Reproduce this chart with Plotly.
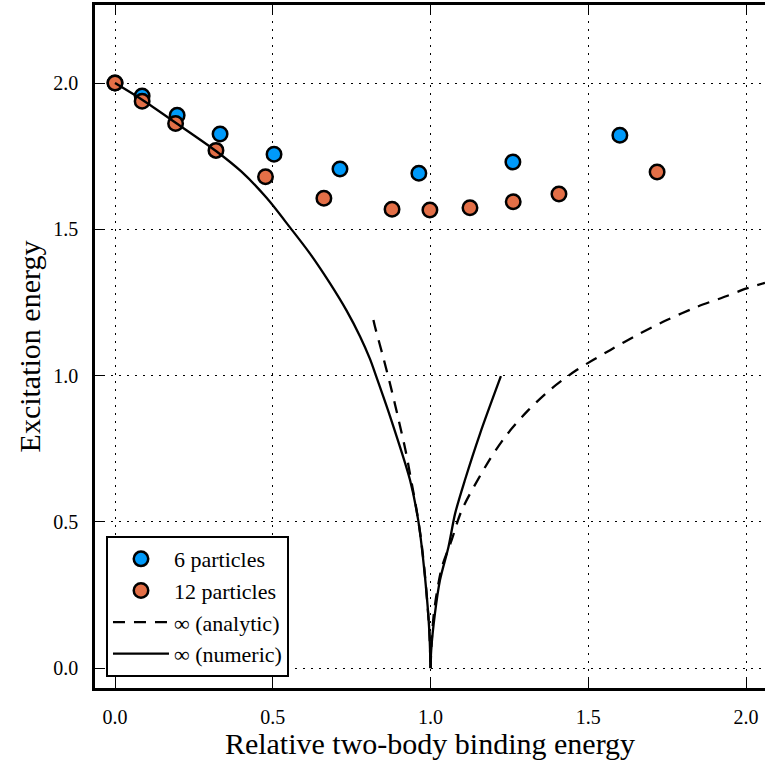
import plotly.graph_objects as go

# 6 particles
x6 = [0.0, 0.086, 0.197, 0.333, 0.504, 0.713, 0.963, 1.261, 1.600]
y6 = [2.0, 1.956, 1.890, 1.826, 1.757, 1.706, 1.692, 1.730, 1.822]

# 12 particles
x12 = [0.0, 0.086, 0.192, 0.320, 0.477, 0.662, 0.878, 0.998, 1.125, 1.262, 1.407, 1.718]
y12 = [2.0, 1.938, 1.862, 1.770, 1.680, 1.606, 1.569, 1.566, 1.574, 1.594, 1.621, 1.696]

# infinite system, analytic (left branch, right branch)
xa_left = [0.819, 0.824, 0.851, 0.876, 0.899, 0.921, 0.940, 0.955, 0.970, 0.983, 0.996, 1.0]
ya_left = [1.190, 1.167, 1.059, 0.953, 0.848, 0.743, 0.634, 0.545, 0.440, 0.310, 0.130, 0.0]
xa_right = [1.0, 1.004, 1.012, 1.035, 1.067, 1.099, 1.183, 1.241, 1.310, 1.384, 1.463, 1.569,
            1.664, 1.749, 1.844, 1.939, 2.002, 2.060]
ya_right = [0.0, 0.100, 0.200, 0.341, 0.438, 0.540, 0.705, 0.797, 0.882, 0.956, 1.019, 1.087,
            1.144, 1.190, 1.235, 1.272, 1.298, 1.317]

# infinite system, numeric (left branch, right branch)
xn_left = [0.0, 0.086, 0.190, 0.320, 0.400, 0.481, 0.555, 0.618, 0.681, 0.734, 0.777,
           0.808, 0.827, 0.872, 0.935, 0.961, 0.983, 0.996, 1.0]
yn_left = [2.0, 1.943, 1.866, 1.768, 1.698, 1.607, 1.506, 1.417, 1.316, 1.222, 1.133,
           1.057, 1.000, 0.860, 0.643, 0.505, 0.305, 0.130, 0.0]
xn_right = [1.0, 1.002, 1.014, 1.030, 1.057, 1.078, 1.109, 1.157, 1.223]
yn_right = [0.0, 0.060, 0.187, 0.301, 0.415, 0.529, 0.643, 0.802, 0.998]

xticks = [0.0, 0.5, 1.0, 1.5, 2.0]
yticks = [0.0, 0.5, 1.0, 1.5, 2.0]
tick_text_x = ["0.0", "0.5", "1.0", "1.5", "2.0"]
tick_text_y = ["0.0", "0.5", "1.0", "1.5", "2.0"]

FONT = "Liberation Serif"
DASH = "12px,9px"

fig = go.Figure()
fig.add_trace(go.Scatter(x=x6, y=y6, mode="markers", name="6 particles",
                         marker=dict(size=14.5, color="#009AFA", line=dict(color="black", width=2.5))))
fig.add_trace(go.Scatter(x=x12, y=y12, mode="markers", name="12 particles",
                         marker=dict(size=14.5, color="#E36F47", line=dict(color="black", width=2.5))))
fig.add_trace(go.Scatter(x=xa_left, y=ya_left, mode="lines", name="∞ (analytic)", legendgroup="an",
                         line=dict(color="black", width=2.3, dash=DASH, shape="spline", smoothing=0.8)))
fig.add_trace(go.Scatter(x=xa_right, y=ya_right, mode="lines", name="∞ (analytic)", legendgroup="an",
                         showlegend=False,
                         line=dict(color="black", width=2.3, dash=DASH, shape="spline", smoothing=0.8)))
fig.add_trace(go.Scatter(x=xn_left, y=yn_left, mode="lines", name="∞ (numeric)", legendgroup="nu",
                         line=dict(color="black", width=2.3, shape="spline", smoothing=0.8)))
fig.add_trace(go.Scatter(x=xn_right, y=yn_right, mode="lines", name="∞ (numeric)", legendgroup="nu",
                         showlegend=False,
                         line=dict(color="black", width=2.3, shape="spline", smoothing=0.8)))

axis_common = dict(
    showline=True, linecolor="black", linewidth=2.5,
    ticks="inside", ticklen=9, tickwidth=1.3, tickcolor="black",
    showgrid=True, gridcolor="black", gridwidth=1, griddash="2px,6px",
    zeroline=False,
    tickfont=dict(family=FONT, size=20, color="black"),
)

fig.update_xaxes(range=[-0.0634, 2.060], tickvals=xticks, ticktext=tick_text_x,
                 mirror="ticks", ticklabelstandoff=9,
                 title=dict(text="Relative two-body binding energy",
                            font=dict(family=FONT, size=30, color="black"), standoff=10),
                 **axis_common)
fig.update_yaxes(range=[-0.068, 2.267], tickvals=yticks, ticktext=tick_text_y,
                 mirror=False, ticklabelstandoff=10,
                 title=dict(text="Excitation energy",
                            font=dict(family=FONT, size=30, color="black"), standoff=4),
                 **axis_common)

fig.update_layout(
    width=765, height=760,
    margin=dict(l=95, r=0, t=5, b=72),
    paper_bgcolor="white", plot_bgcolor="white",
    font=dict(family=FONT, color="black"),
    showlegend=True,
    legend=dict(x=0.0164, y=0.016, xanchor="left", yanchor="bottom",
                bgcolor="white", bordercolor="black", borderwidth=2,
                font=dict(family=FONT, size=22, color="black"),
                tracegroupgap=0, itemwidth=56, traceorder="normal"),
)

fig.write_html("out.html", config={"displayModeBar": False},
               post_script="document.body.style.margin='0px';document.body.style.overflow='hidden';")
